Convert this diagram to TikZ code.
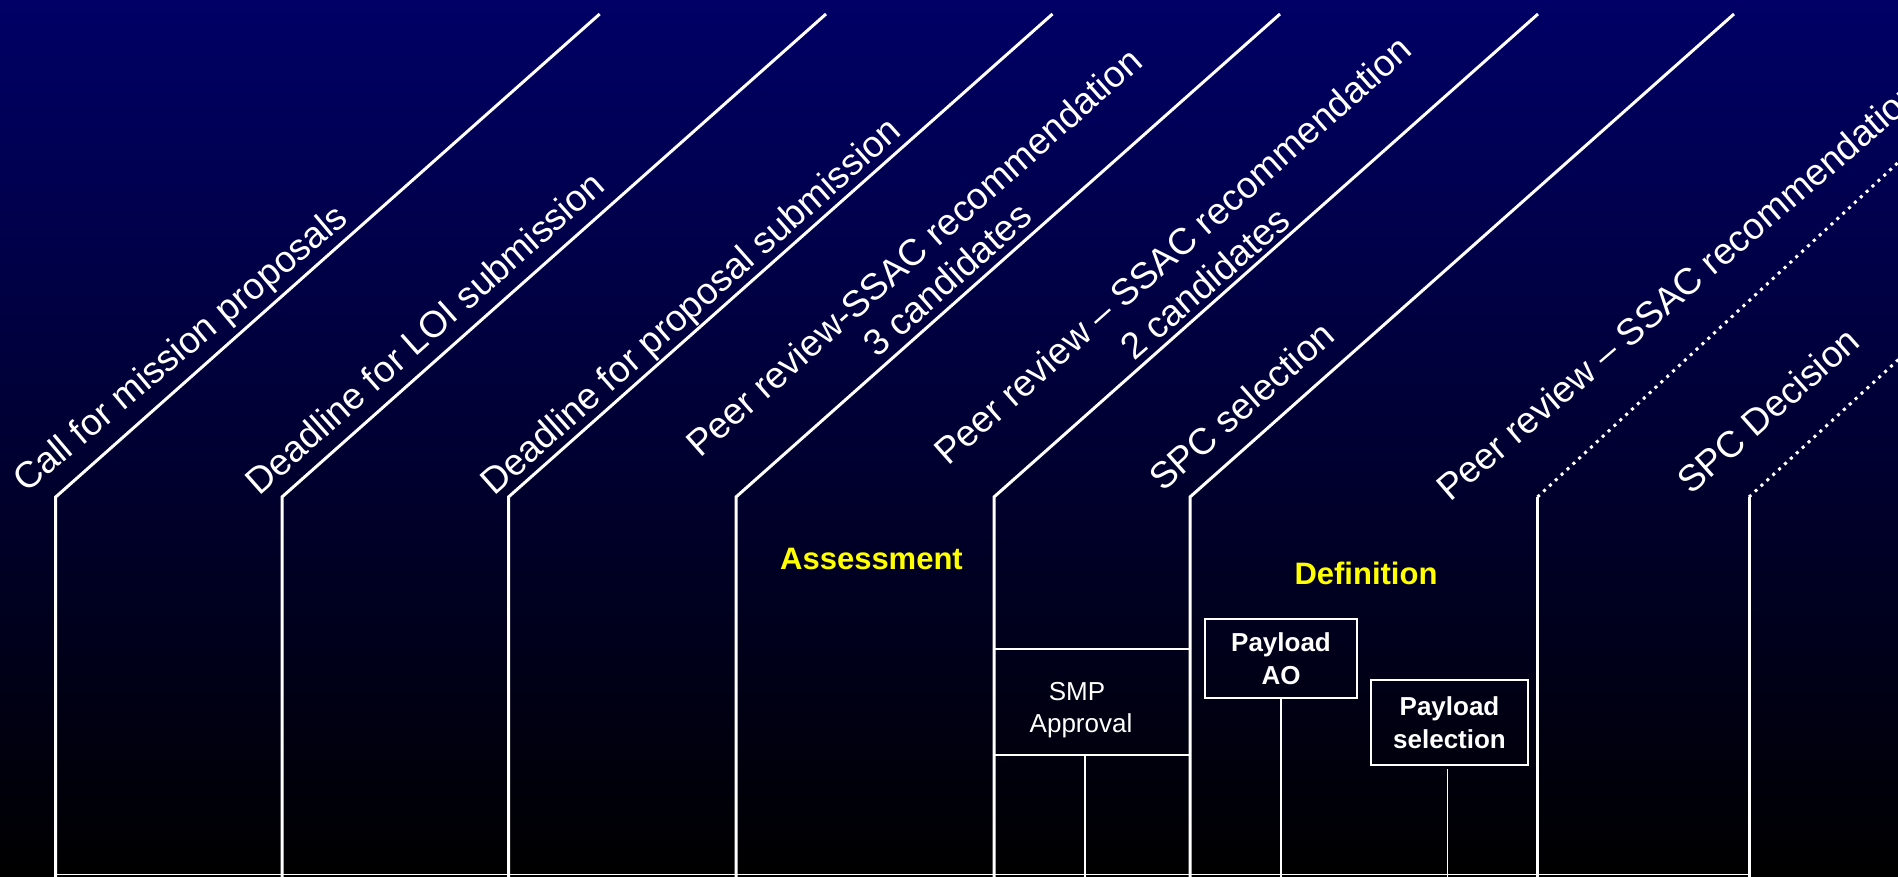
\documentclass[tikz,border=0pt]{standalone}
\usepackage{fontspec}
\setmainfont{Liberation Sans}
\definecolor{navytop}{RGB}{0,0,102}
\definecolor{labelyellow}{RGB}{255,255,0}
\begin{document}
\begin{tikzpicture}[x=1pt,y=-1pt,
  mainline/.style={draw=white, line width=3pt, line join=miter},
  dotline/.style={draw=white, line width=3pt, dash pattern=on 3pt off 5pt},
  thinline/.style={draw=white, line width=1.5pt},
  cellline/.style={draw=white, line width=2pt},
  slanted/.style={text=white, rotate=41.6, anchor=base west, inner sep=0pt, font=\fontsize{37}{44}\selectfont},
  phase/.style={text=labelyellow, anchor=base, inner sep=0pt, font=\bfseries\fontsize{31}{37}\selectfont},
  plain/.style={text=white, anchor=base, inner sep=0pt, font=\fontsize{26}{32}\selectfont},
  paybox/.style={draw=white, line width=2pt, text=white, inner sep=0pt, align=center, font=\bfseries\fontsize{26}{33}\selectfont},
]
\useasboundingbox (0,0) rectangle (1898,877);
\shade[top color=navytop, bottom color=black] (0,0) rectangle (1898,877);

% corners of the milestone brackets
\coordinate (c1) at (55.7,497);
\coordinate (c2) at (282,497);
\coordinate (c3) at (508.5,497);
\coordinate (c4) at (736,497);
\coordinate (c5) at (994,497);
\coordinate (c6) at (1190,497);
\coordinate (c7) at (1537.5,497);
\coordinate (c8) at (1749,497);
\foreach \i/\x in {1/55.7,2/282,3/508.5,4/736,5/994,6/1190,7/1537.5,8/1749}
  \coordinate (b\i) at (\x,877);

% bottom base line
\draw[white, line width=1.2pt] (55.7,874.5) -- (1749,874.5);

% solid brackets
\foreach \i in {1,...,6}
  \draw[mainline] (b\i) -- (c\i) -- ++(544,-483);
% dotted brackets
\draw[mainline] (b7) -- (c7);
\draw[dotline] (c7) -- ++(400,-371);
\draw[mainline] (b8) -- (c8);
\draw[dotline] (c8) -- ++(200,-184);

% slanted milestone labels
\node[slanted, rotate=-1.5] (t1) at (26,494) {Call for mission proposals};
\node[slanted] (t2) at (259,497) {Deadline for LOI submission};
\node[slanted] (t3) at (494,497) {Deadline for proposal submission};
\node[slanted] (t4a) at (700,459) {Peer review-SSAC recommendation};
\node[slanted] (t4b) at (877,359) {3 candidates};
\node[slanted] (t5a) at (948,467) {Peer review – SSAC recommendation};
\node[slanted, rotate=-0.5] (t5b) at (1134,362) {2 candidates};
\node[slanted] (t6) at (1163,493) {SPC selection};
\node[slanted, rotate=-1] (t7) at (1450,503) {Peer review – SSAC recommendation};
\node[slanted] (t8) at (1691,496) {SPC Decision};

% phase labels
\node[phase] (assess) at (871.5,569) {Assessment};
\node[phase] (defin) at (1366,584) {Definition};

% SMP approval cell
\node[minimum width=196pt, minimum height=106pt, inner sep=0pt] (smp) at (1092,702) {};
\draw[cellline] (smp.north west) -- (smp.north east);
\draw[cellline] (smp.south west) -- (smp.south east);
\node[plain] (smp1) at (1077,700) {SMP};
\node[plain] (smp2) at (1081,732) {Approval};
\coordinate (smpc) at (1085,755);
\draw[thinline] (smpc) -- (smpc |- b1);

% payload boxes
\node[paybox, minimum width=152pt, minimum height=79pt] (ao) at (1281,658.5) {Payload\\AO};
\draw[thinline] (ao.south) -- (ao.south |- b1);
\node[paybox, minimum width=157pt, minimum height=85pt] (sel) at (1449.5,722.5) {Payload\\selection};
\coordinate (selc) at (1447.5,769);
\draw[thinline] (selc) -- (selc |- b1);
\end{tikzpicture}
\end{document}
